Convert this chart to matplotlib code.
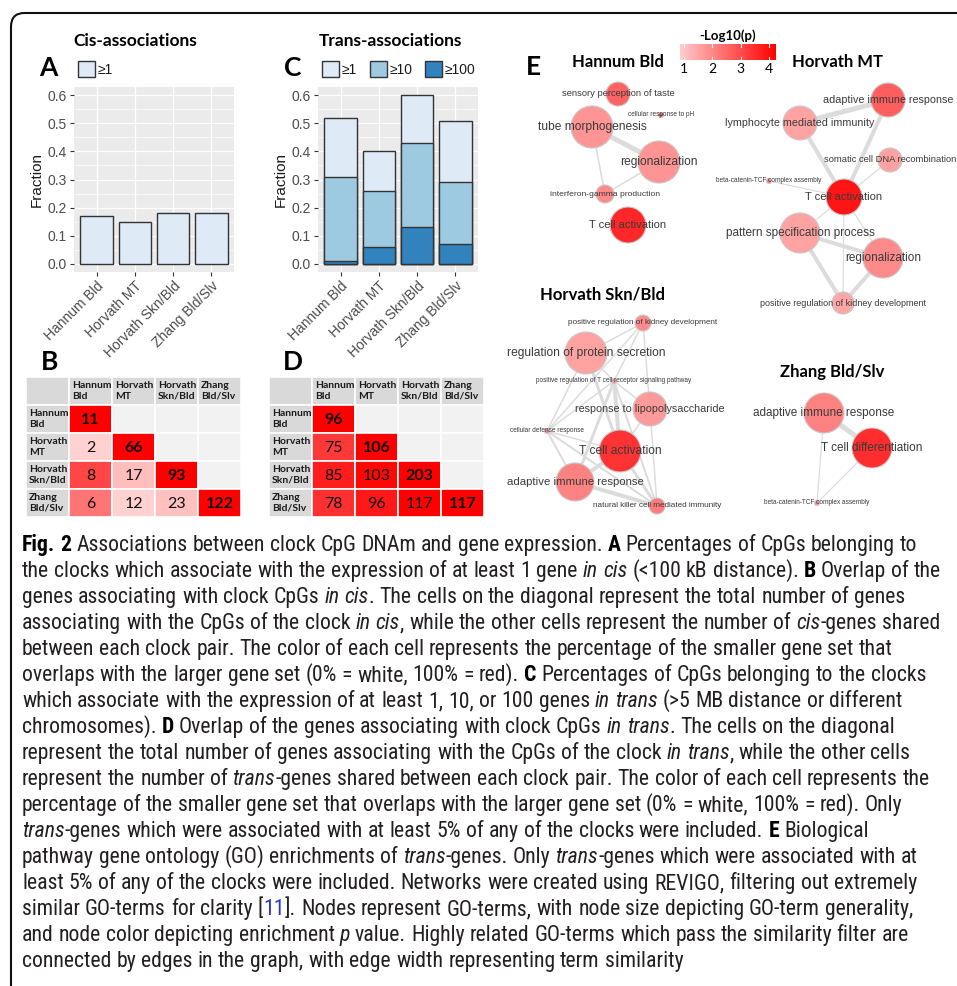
import re
import numpy as np
import matplotlib
matplotlib.use("Agg")
import matplotlib.pyplot as plt
from matplotlib import font_manager
from matplotlib.patches import Rectangle, Circle, FancyBboxPatch
from matplotlib.colors import LinearSegmentedColormap, Normalize

W, H = 957, 986

# ---------------- data ----------------
clocks = ["Hannum Bld", "Horvath MT", "Horvath Skn/Bld", "Zhang Bld/Slv"]
table_labels = ["Hannum\nBld", "Horvath\nMT", "Horvath\nSkn/Bld", "Zhang\nBld/Slv"]

# fraction of clock CpGs with >=1 cis gene
cis_any = [0.17, 0.15, 0.18, 0.18]

# fraction of clock CpGs with >=1 / >=10 / >=100 trans genes
trans_ge1 = [0.52, 0.40, 0.60, 0.51]
trans_ge10 = [0.31, 0.26, 0.43, 0.29]
trans_ge100 = [0.01, 0.06, 0.13, 0.07]

# shared genes (lower triangle), diagonal = genes per clock
cis_overlap = [[11], [2, 66], [8, 17, 93], [6, 12, 23, 122]]
trans_overlap = [[96], [75, 106], [85, 103, 203], [78, 96, 117, 117]]

# GO networks: layout position, node size (term generality), -log10(p), edges (i, j, similarity)
hannum_terms = ["sensory perception of taste", "cellular response to pH", "tube morphogenesis",
                "regionalization", "interferon-gamma production", "T cell activation"]
hannum_x = [88, 131, 62, 129, 75, 98]
hannum_y = [14, 35, 47, 82, 114, 145]
hannum_size = [12, 2.5, 21, 21, 9, 18]
hannum_logp = [2.6, 2.9, 1.8, 1.8, 1.95, 3.6]
hannum_edges = [(2, 3, 5), (2, 4, 1.5), (3, 4, 1.5)]

mt_terms = ["adaptive immune response", "lymphocyte mediated immunity", "somatic cell DNA recombination",
            "beta-catenin-TCF complex assembly", "T cell activation", "pattern specification process",
            "regionalization", "positive regulation of kidney development"]
mt_x = [148, 60, 150, 29, 104, 60, 143, 103]
mt_y = [20, 43, 80, 101, 117, 153, 178, 223]
mt_size = [17, 17, 12, 2.5, 18, 20, 20, 11]
mt_logp = [2.7, 1.55, 1.55, 2.2, 3.9, 1.55, 1.95, 1.5]
mt_edges = [(0, 1, 5), (0, 4, 4), (1, 4, 4), (2, 4, 1.2), (3, 4, 1.2), (4, 5, 1.2),
            (4, 6, 1.2), (4, 7, 1.2), (5, 6, 4), (5, 7, 4), (6, 7, 4)]

skn_terms = ["positive regulation of kidney development", "regulation of protein secretion",
             "positive regulation of T cell receptor signaling pathway", "response to lipopolysaccharide",
             "cellular defense response", "T cell activation", "adaptive immune response",
             "natural killer cell mediated immunity"]
skn_x = [143, 86, 114, 150, 47, 120, 75, 157]
skn_y = [23, 53, 81, 109, 131, 151, 182, 206]
skn_size = [8, 21, 2.5, 17, 2.5, 21, 19, 8]
skn_logp = [1.96, 1.55, 1.9, 1.7, 2.1, 3.4, 2.1, 2.2]
skn_edges = [(0, 1, 1.5), (0, 2, 1.5), (0, 4, 1.5), (0, 3, 1.5), (1, 2, 1.5), (1, 5, 3),
             (1, 4, 1.5), (2, 3, 1.5), (2, 5, 4), (2, 6, 3), (2, 4, 1.5), (2, 7, 2),
             (3, 5, 1.5), (3, 7, 1.5), (4, 6, 2), (4, 5, 1.5), (4, 7, 2), (5, 6, 4),
             (5, 7, 3), (6, 7, 4)]

zhang_terms = ["adaptive immune response", "T cell differentiation", "beta-catenin-TCF complex assembly"]
zhang_x = [64, 112, 57]
zhang_y = [23, 58, 113]
zhang_size = [20, 20, 2.5]
zhang_logp = [2.1, 3.5, 1.9]
zhang_edges = [(0, 1, 5), (0, 2, 1.2), (1, 2, 1.2)]

logp_ticks = [1, 2, 3, 4]

caption_lines = [
    "<b>Fig. 2</b> Associations between clock CpG DNAm and gene expression. <b>A</b> Percentages of CpGs belonging to",
    "the clocks which associate with the expression of at least 1 gene <i>in cis</i> (<100 kB distance). <b>B</b> Overlap of the",
    "genes associating with clock CpGs <i>in cis</i>. The cells on the diagonal represent the total number of genes",
    "associating with the CpGs of the clock <i>in cis</i>, while the other cells represent the number of <i>cis</i>-genes shared",
    "between each clock pair. The color of each cell represents the percentage of the smaller gene set that",
    "overlaps with the larger gene set (0% = white, 100% = red). <b>C</b> Percentages of CpGs belonging to the clocks",
    "which associate with the expression of at least 1, 10, or 100 genes <i>in trans</i> (>5 MB distance or different",
    "chromosomes). <b>D</b> Overlap of the genes associating with clock CpGs <i>in trans</i>. The cells on the diagonal",
    "represent the total number of genes associating with the CpGs of the clock <i>in trans</i>, while the other cells",
    "represent the number of <i>trans</i>-genes shared between each clock pair. The color of each cell represents the",
    "percentage of the smaller gene set that overlaps with the larger gene set (0% = white, 100% = red). Only",
    "<i>trans</i>-genes which were associated with at least 5% of any of the clocks were included. <b>E</b> Biological",
    "pathway gene ontology (GO) enrichments of <i>trans</i>-genes. Only <i>trans</i>-genes which were associated with at",
    "least 5% of any of the clocks were included. Networks were created using REVIGO, filtering out extremely",
    "similar GO-terms for clarity [<a>11</a>]. Nodes represent GO-terms, with node size depicting GO-term generality,",
    "and node color depicting enrichment <i>p</i> value. Highly related GO-terms which pass the similarity filter are",
    "connected by edges in the graph, with edge width representing term similarity",
]

# ---------------- fonts ----------------
available = {f.name for f in font_manager.fontManager.ttflist}


def pick(*names):
    for n in names:
        if n in available:
            return n
    return "DejaVu Sans"


SANS = pick("Liberation Sans", "Arimo")
HUMAN = pick("Lato", "Open Sans", "Noto Sans")
CAPTION = pick("Liberation Sans Narrow", "Roboto Condensed", "Open Sans Condensed", "Roboto", "Liberation Sans")

fig = plt.figure(figsize=(W / 100, H / 100), dpi=100)
fig.patch.set_facecolor("white")


def px_axes(x0, y0, w, h):
    return fig.add_axes([x0 / W, 1 - (y0 + h) / H, w / W, h / H])


def ftext(x, y, s, **kw):
    return fig.text(x / W, 1 - y / H, s, **kw)


def frect(x0, y0, w, h, **kw):
    fig.add_artist(Rectangle((x0 / W, 1 - (y0 + h) / H), w / W, h / H,
                             transform=fig.transFigure, **kw))


# outer frame, rounded top-left corner
fig.add_artist(FancyBboxPatch((11 / W, -0.2), 1.2, 1 - 13 / H + 0.2,
                              boxstyle="round,pad=0,rounding_size=0.014",
                              transform=fig.transFigure, facecolor="none",
                              edgecolor="#111111", lw=1.5, clip_on=False))


# ---------------- bar panels (A, C) ----------------
def gg_axes(x0):
    ax = px_axes(x0, 87, 160, 185)
    ax.set_facecolor("#ebebeb")
    for s in ax.spines.values():
        s.set_visible(False)
    ax.set_xlim(0.4, 4.6)
    ax.set_ylim(-0.03, 0.63)
    yt = np.arange(0, 0.61, 0.1)
    ax.set_yticks(yt)
    ax.set_yticklabels([f"{v:.1f}" for v in yt], family=SANS)
    ax.set_yticks(np.arange(0.05, 0.6, 0.1), minor=True)
    ax.grid(which="major", color="white", lw=0.9)
    ax.grid(which="minor", axis="y", color="white", lw=0.45)
    ax.set_axisbelow(True)
    ax.tick_params(which="minor", length=0)
    ax.tick_params(which="major", length=3, width=0.8, color="#333333",
                   labelcolor="#4d4d4d", labelsize=10, pad=2)
    ax.set_xticks(range(1, 5))
    ax.set_xticklabels(clocks, rotation=45, ha="right", rotation_mode="anchor", family=SANS)
    ax.set_ylabel("Fraction", fontsize=11, family=SANS, color="#1a1a1a", labelpad=3)
    return ax


pos = np.arange(1, 5)
edge = dict(edgecolor="#333333", linewidth=1.0, width=0.86)
blue1, blue10, blue100 = "#deebf7", "#9ecae1", "#3182bd"

axA = gg_axes(74)
axA.bar(pos, cis_any, color=blue1, **edge)

axC = gg_axes(318)
axC.bar(pos, trans_ge1, color=blue1, **edge)
axC.bar(pos, trans_ge10, color=blue10, **edge)
axC.bar(pos, trans_ge100, color=blue100, **edge)

ftext(135, 41, "Cis-associations", family=HUMAN, weight="bold", fontsize=12.5, ha="center", va="center")
ftext(390, 41, "Trans-associations", family=HUMAN, weight="bold", fontsize=12.5, ha="center", va="center")

for letter, x, y in [("A", 48, 68), ("C", 293, 68), ("B", 50, 362), ("D", 293, 362), ("E", 533, 67)]:
    ftext(x, y, letter, family=HUMAN, weight="bold", fontsize=19, ha="center", va="center")

# legend keys
for (x, lab, col) in [(78, "≥1", blue1), (322, "≥1", blue1), (370, "≥10", blue10), (425, "≥100", blue100)]:
    frect(x, 61, 17, 16, facecolor=col, edgecolor="#333333", lw=1.0)
    ftext(x + 20, 69.5, lab, family=SANS, fontsize=10, ha="left", va="center", color="#1a1a1a")


# ---------------- overlap tables (B, D) ----------------
def overlap_table(x0, counts):
    cw, ch = 43, 28
    ax = px_axes(x0, 377, 5 * cw, 5 * ch)
    ax.set_xlim(0, 5 * cw)
    ax.set_ylim(5 * ch, 0)
    ax.axis("off")
    diag = [counts[i][i] for i in range(4)]
    for r in range(5):
        for c in range(5):
            x, y = c * cw, r * ch
            if r == 0 or c == 0:
                fc = "#d9d9d9"
            elif c > r:
                fc = "#f2f2f2"
            else:
                v = counts[r - 1][c - 1]
                frac = min(1.0, v / min(diag[r - 1], diag[c - 1]))
                fc = (1.0, 1 - frac, 1 - frac)
            ax.add_patch(Rectangle((x, y), cw, ch, facecolor=fc, edgecolor="white", lw=1.2))
            if r == 0 and c > 0:
                ax.text(x + 3, y + ch / 2, table_labels[c - 1], family=HUMAN, weight="bold",
                        fontsize=7.5, ha="left", va="center", linespacing=1.25, color="#1a1a1a")
            elif c == 0 and r > 0:
                ax.text(x + 3, y + ch / 2, table_labels[r - 1], family=HUMAN, weight="bold",
                        fontsize=7.5, ha="left", va="center", linespacing=1.25, color="#1a1a1a")
            elif r > 0 and c > 0 and c <= r:
                ax.text(x + cw / 2, y + ch / 2 + 1, str(counts[r - 1][c - 1]), family=HUMAN,
                        weight="bold" if r == c else "normal", fontsize=11.5,
                        ha="center", va="center", color="#111111")


overlap_table(26, cis_overlap)
overlap_table(269, trans_overlap)

# ---------------- GO networks (E) ----------------
lo, hi = 0.86, 4.25
node_cmap = LinearSegmentedColormap.from_list("logp", ["#ffcccc", "#ff0000"])
node_norm = Normalize(lo, hi)

cb = px_axes(680, 44, 96, 16)
cb.imshow(np.linspace(lo, hi, 256)[None, :], aspect="auto", cmap=node_cmap, norm=node_norm,
          extent=[lo, hi, 0, 1])
cb.set_xlim(lo, hi)
cb.set_ylim(0, 1)
for s in cb.spines.values():
    s.set_visible(False)
cb.set_yticks([])
cb.set_xticks(logp_ticks)
cb.set_xticklabels([str(t) for t in logp_ticks], family=HUMAN)
cb.tick_params(axis="x", length=0, pad=2, labelsize=10)
for t in logp_ticks:
    cb.plot([t, t], [0, 0.2], color="white", lw=0.8)
    cb.plot([t, t], [0.8, 1], color="white", lw=0.8)
ftext(728, 36, "-Log10(p)", family=HUMAN, weight="bold", fontsize=9.5, ha="center", va="center")


def draw_network(x0, y0, terms, xs, ys, sizes, logp, edges):
    ax = px_axes(x0, y0, 220, 240)
    ax.set_xlim(0, 220)
    ax.set_ylim(240, 0)
    ax.axis("off")
    for i, j, w in edges:
        ax.plot([xs[i], xs[j]], [ys[i], ys[j]], color="#dcdcdc", lw=w * 0.72,
                solid_capstyle="butt", zorder=1, clip_on=False)
    for term, x, y, s, v in zip(terms, xs, ys, sizes, logp):
        ax.add_patch(Circle((x, y), s, facecolor=node_cmap(node_norm(v)), edgecolor="#c8c8c8",
                            lw=0.8, zorder=2, clip_on=False))
        ax.text(x, y, term, ha="center", va="center", family=SANS,
                fontsize=(5.8 + 0.295 * s) * 0.72, color="#3a3a3a", zorder=3)


draw_network(530, 80, hannum_terms, hannum_x, hannum_y, hannum_size, hannum_logp, hannum_edges)
draw_network(740, 80, mt_terms, mt_x, mt_y, mt_size, mt_logp, mt_edges)
draw_network(500, 300, skn_terms, skn_x, skn_y, skn_size, skn_logp, skn_edges)
draw_network(760, 390, zhang_terms, zhang_x, zhang_y, zhang_size, zhang_logp, zhang_edges)

for title, x, y in [("Hannum Bld", 618, 62), ("Horvath MT", 837, 62),
                    ("Horvath Skn/Bld", 603, 295), ("Zhang Bld/Slv", 832, 372)]:
    ftext(x, y, title, family=HUMAN, weight="bold", fontsize=12, ha="center", va="center")

# ---------------- caption ----------------
renderer = fig.canvas.get_renderer()
styles = {
    "r": dict(color="#231f20"),
    "b": dict(color="#000000", weight="bold"),
    "i": dict(color="#231f20", style="italic"),
    "a": dict(color="#2636d8"),
}


def segments(line):
    for part in re.split(r"(<[bia]>.*?</[bia]>)", line):
        if not part:
            continue
        m = re.fullmatch(r"<([bia])>(.*?)</\1>", part)
        if m:
            yield m.group(1), m.group(2)
        else:
            yield "r", part


def width_of(s, fs):
    t = ftext(0, 0, s, family=CAPTION, fontsize=fs)
    w = t.get_window_extent(renderer).width
    t.remove()
    return w


def set_line(line, y, fs, keep=True):
    space = width_of("a a", fs) - width_of("aa", fs)
    x = 22
    for style, chunk in segments(line):
        for k, word in enumerate(chunk.split(" ")):
            if k:
                x += space
            if not word:
                continue
            t = ftext(x, y, word, family=CAPTION, fontsize=fs, ha="left", va="baseline", **styles[style])
            x += t.get_window_extent(renderer).width
            if not keep:
                t.remove()
    return x - 22


base = 14.0
widest = max(set_line(ln, 0, base, keep=False) for ln in caption_lines)
cap_fs = min(16.5, base * 928 / widest)
for i, ln in enumerate(caption_lines):
    set_line(ln, 551 + 26 * i, cap_fs)

fig.savefig("out.png", dpi=100)
